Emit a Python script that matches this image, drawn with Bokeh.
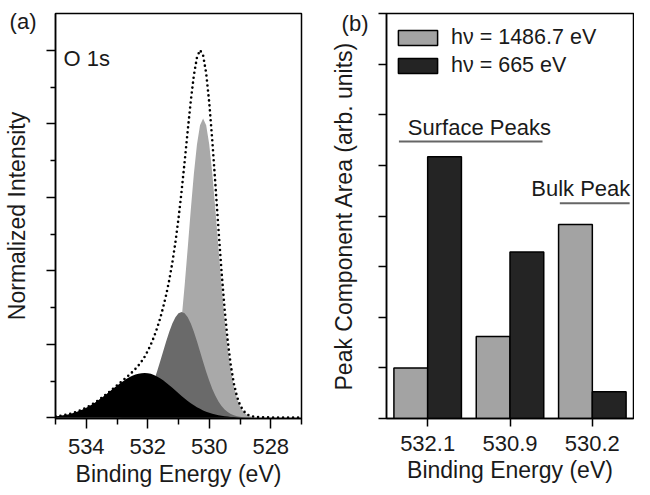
from bokeh.plotting import figure
from bokeh.models import (Range1d, FixedTicker, Label, Legend, LegendItem,
                          ColumnDataSource, LinearAxis, CustomJSTickFormatter)
from bokeh.layouts import row
from bokeh.embed import file_html
from bokeh.resources import INLINE
from bokeh.transform import dodge

# ---------------- data: panel (a) O 1s spectrum ----------------
energy = [535.0, 534.9, 534.8, 534.7, 534.6, 534.5, 534.4, 534.3, 534.2, 534.1,
          534.0, 533.9, 533.8, 533.7, 533.6, 533.5, 533.4, 533.3, 533.2, 533.1,
          533.0, 532.9, 532.8, 532.7, 532.6, 532.5, 532.4, 532.3, 532.2, 532.1,
          532.0, 531.9, 531.8, 531.7, 531.6, 531.5, 531.4, 531.3, 531.2, 531.1,
          531.0, 530.9, 530.8, 530.7, 530.6, 530.5, 530.4, 530.3, 530.2, 530.1,
          530.0, 529.9, 529.8, 529.7, 529.6, 529.5, 529.4, 529.3, 529.2, 529.1,
          529.0, 528.9, 528.8, 528.7, 528.6, 528.5, 528.4, 528.3, 528.2, 528.1,
          528.0, 527.9, 527.8, 527.7, 527.6, 527.5, 527.4, 527.3, 527.2, 527.1,
          527.0]

peak_532_1 = [0.019, 0.024, 0.030, 0.037, 0.046, 0.056, 0.069, 0.083, 0.099, 0.117,
              0.137, 0.160, 0.185, 0.212, 0.241, 0.271, 0.303, 0.336, 0.370, 0.404,
              0.436, 0.468, 0.498, 0.526, 0.550, 0.571, 0.588, 0.600, 0.607, 0.610,
              0.607, 0.598, 0.583, 0.563, 0.538, 0.510, 0.477, 0.443, 0.407, 0.370,
              0.333, 0.297, 0.262, 0.229, 0.198, 0.170, 0.144, 0.121, 0.100, 0.083,
              0.067, 0.054, 0.043, 0.034, 0.027, 0.021, 0.016, 0.012, 0.009, 0.007,
              0.005, 0.004, 0.003, 0.002, 0.001, 0.0, 0.0, 0.0, 0.0, 0.0,
              0.0, 0.0, 0.0, 0.0, 0.0, 0.0, 0.0, 0.0, 0.0, 0.0,
              0.0]

peak_530_9 = [0.0, 0.0, 0.0, 0.0, 0.0, 0.0, 0.0, 0.0, 0.0, 0.0,
              0.0, 0.0, 0.0, 0.0, 0.0, 0.0, 0.0, 0.0, 0.0, 0.003,
              0.005, 0.008, 0.013, 0.021, 0.034, 0.052, 0.077, 0.112, 0.160, 0.221,
              0.298, 0.392, 0.502, 0.626, 0.761, 0.902, 1.040, 1.169, 1.281, 1.367,
              1.421, 1.440, 1.421, 1.367, 1.281, 1.169, 1.040, 0.902, 0.761, 0.626,
              0.502, 0.392, 0.298, 0.221, 0.160, 0.112, 0.077, 0.052, 0.034, 0.021,
              0.013, 0.008, 0.005, 0.003, 0.002, 0.001, 0.0, 0.0, 0.0, 0.0,
              0.0, 0.0, 0.0, 0.0, 0.0, 0.0, 0.0, 0.0, 0.0, 0.0,
              0.0]

peak_530_2 = [0.0, 0.0, 0.0, 0.0, 0.0, 0.0, 0.0, 0.0, 0.0, 0.0,
              0.0, 0.0, 0.0, 0.0, 0.0, 0.0, 0.0, 0.0, 0.0, 0.0,
              0.0, 0.0, 0.0, 0.0, 0.0, 0.0, 0.0, 0.0, 0.0, 0.0,
              0.003, 0.006, 0.012, 0.025, 0.048, 0.089, 0.156, 0.263, 0.423, 0.651,
              0.956, 1.343, 1.802, 2.311, 2.834, 3.320, 3.718, 3.979, 4.070, 3.979,
              3.718, 3.320, 2.834, 2.311, 1.802, 1.343, 0.956, 0.651, 0.423, 0.263,
              0.156, 0.089, 0.048, 0.025, 0.012, 0.006, 0.003, 0.001, 0.0, 0.0,
              0.0, 0.0, 0.0, 0.0, 0.0, 0.0, 0.0, 0.0, 0.0, 0.0,
              0.0]

measured = [0.019, 0.024, 0.030, 0.037, 0.046, 0.056, 0.069, 0.083, 0.099, 0.117,
            0.137, 0.160, 0.185, 0.212, 0.241, 0.271, 0.303, 0.336, 0.370, 0.407,
            0.441, 0.476, 0.511, 0.547, 0.584, 0.623, 0.665, 0.712, 0.767, 0.831,
            0.908, 0.996, 1.097, 1.214, 1.347, 1.501, 1.673, 1.875, 2.111, 2.388,
            2.710, 3.080, 3.485, 3.907, 4.313, 4.659, 4.902, 5.002, 4.931, 4.688,
            4.287, 3.766, 3.175, 2.566, 1.989, 1.476, 1.049, 0.715, 0.466, 0.291,
            0.174, 0.101, 0.056, 0.030, 0.018, 0.012, 0.009, 0.007, 0.006, 0.005,
            0.005, 0.004, 0.004, 0.004, 0.003, 0.003, 0.003, 0.003, 0.003, 0.003,
            0.003]

a_major_ticks = [534, 532, 530, 528]
a_minor_ticks = [535, 533, 531, 529, 527]
a_y_ticks = [0, 1, 2, 3, 4, 5]
a_y_minor = [0.5, 1.5, 2.5, 3.5, 4.5]

# ---------------- data: panel (b) peak areas ----------------
categories = ["532.1", "530.9", "530.2"]
area_1486_7 = [1.00, 1.62, 3.83]
area_665 = [5.17, 3.29, 0.53]
b_y_ticks = [0, 1, 2, 3, 4, 5, 6, 7, 8]

FONT = "Liberation Sans"
TXT = "#1a1a1a"


def style_axis(ax):
    ax.axis_line_color = "black"
    ax.axis_line_width = 1.5
    ax.major_tick_line_color = "black"
    ax.major_tick_line_width = 1.5
    ax.minor_tick_line_color = "black"
    ax.minor_tick_line_width = 1.5
    ax.major_tick_in = 0
    ax.minor_tick_in = 0
    ax.axis_label_text_font = FONT
    ax.axis_label_text_font_style = "normal"
    ax.axis_label_text_font_size = "23px"
    ax.axis_label_text_color = TXT
    ax.major_label_text_font = FONT
    ax.major_label_text_font_size = "22px"
    ax.major_label_text_color = TXT


def style_x_axis(ax, tick_out, label_standoff, title_standoff):
    ax.major_tick_out = tick_out
    ax.major_label_standoff = label_standoff
    ax.axis_label_standoff = title_standoff
    ax.axis_label = "Binding Energy (eV)"


def style_fig(p):
    style_axis(p.xaxis[0])
    style_axis(p.yaxis[0])
    p.xgrid.visible = False
    p.ygrid.visible = False
    p.outline_line_color = "black"
    p.outline_line_width = 1.5
    p.background_fill_color = "white"
    p.border_fill_color = "white"


def hide_y_labels(ax):
    ax.major_label_text_color = None
    ax.major_label_text_font_size = "1px"
    ax.major_label_standoff = 0


def tag_axis(tag, tag_pos, label, label_standoff):
    # outer left axis: no line/ticks, carries the panel tag and the axis title
    ax = LinearAxis(ticker=FixedTicker(ticks=[tag_pos], minor_ticks=[]),
                    formatter=CustomJSTickFormatter(code="return '%s'" % tag))
    style_axis(ax)
    ax.axis_line_color = None
    ax.major_tick_out = 0
    ax.minor_tick_out = 0
    ax.major_tick_line_color = None
    ax.minor_tick_line_color = None
    ax.major_label_standoff = 10
    ax.major_label_orientation = "horizontal"
    ax.axis_label = label
    ax.axis_label_standoff = label_standoff
    return ax


# ---------------- panel (a) ----------------
pA = figure(width=327, height=495,
            min_border_left=48, min_border_right=26,
            min_border_top=13, min_border_bottom=77,
            x_range=Range1d(535.0, 527.0), y_range=Range1d(-0.01, 5.5),
            output_backend="svg", toolbar_location=None)
style_fig(pA)

srcA = ColumnDataSource(dict(e=energy, p1=peak_532_1, p2=peak_530_9,
                             p3=peak_530_2, m=measured))
pA.varea(x="e", y1=0, y2="p3", source=srcA, fill_color="#a9a9a9")
pA.varea(x="e", y1=0, y2="p2", source=srcA, fill_color="#6a6a6a")
pA.varea(x="e", y1=0, y2="p1", source=srcA, fill_color="#000000")
pA.line(x="e", y="m", source=srcA, line_color="black", line_width=2.6,
        line_dash="0 5", line_cap="round")

pA.xaxis.ticker = FixedTicker(ticks=a_major_ticks, minor_ticks=a_minor_ticks)
pA.xaxis.minor_tick_out = 6
style_x_axis(pA.xaxis[0], 10, 10, 4)

pA.yaxis.ticker = FixedTicker(ticks=a_y_ticks, minor_ticks=a_y_minor)
pA.yaxis.major_tick_out = 9
pA.yaxis.minor_tick_out = 5
hide_y_labels(pA.yaxis[0])
pA.add_layout(tag_axis("(a)", 5.39, "Normalized Intensity", -23), "left")

o1s = Label(x=8, y=405 - 45, x_units="screen", y_units="screen", text="O 1s",
            text_font=FONT, text_font_size="22px", text_color=TXT,
            text_baseline="alphabetic")
pA.add_layout(o1s)

# ---------------- panel (b) ----------------
cat_pos = [i + 0.5 for i in range(len(categories))]

pB = figure(width=307, height=495,
            min_border_left=48, min_border_right=1,
            min_border_top=13, min_border_bottom=73,
            x_range=Range1d(0, len(categories)), y_range=Range1d(0, 8),
            output_backend="svg", toolbar_location=None)
style_fig(pB)

srcB = ColumnDataSource(dict(pos=cat_pos, cat=categories, a1=area_1486_7,
                             a2=area_665))
r1 = pB.vbar(x=dodge("pos", -0.205), top="a1", width=0.41,
             source=srcB, fill_color="#a3a3a3", line_color="black",
             line_width=1.5)
r2 = pB.vbar(x=dodge("pos", 0.205), top="a2", width=0.41,
             source=srcB, fill_color="#242424", line_color="black",
             line_width=1.5)

pB.xaxis.ticker = FixedTicker(ticks=cat_pos, minor_ticks=[])
pB.xaxis.formatter = CustomJSTickFormatter(
    args=dict(cats=categories), code="return cats[Math.round(tick - 0.5)]")
pB.xaxis.minor_tick_out = 0
style_x_axis(pB.xaxis[0], 8, 9, 3)

pB.yaxis.ticker = FixedTicker(ticks=b_y_ticks, minor_ticks=[])
pB.yaxis.major_tick_out = 8
pB.yaxis.minor_tick_out = 0
hide_y_labels(pB.yaxis[0])
pB.add_layout(tag_axis("(b)", 7.81, "Peak Component Area (arb. units)", -18),
              "left")

legend = Legend(items=[LegendItem(label="hν = 1486.7 eV", renderers=[r1]),
                       LegendItem(label="hν = 665 eV", renderers=[r2])],
                location=(7, 340), glyph_width=49, glyph_height=19,
                label_standoff=9, spacing=3, padding=0, margin=0,
                label_text_font=FONT, label_text_font_size="21.5px",
                label_text_color=TXT, border_line_color=None,
                background_fill_alpha=0)
pB.add_layout(legend)

pB.segment(x0=[0.151], x1=[1.895], y0=[5.47], y1=[5.47],
           line_color="#666666", line_width=2)
pB.segment(x0=[2.105], x1=[2.953], y0=[4.25], y1=[4.25],
           line_color="#666666", line_width=2)
pB.add_layout(Label(x=1.128, y=5.75, text="Surface Peaks", text_font=FONT,
                    text_font_size="22px", text_color=TXT,
                    text_align="center", text_baseline="middle"))
pB.add_layout(Label(x=2.36, y=4.54, text="Bulk Peak", text_font=FONT,
                    text_font_size="22px", text_color=TXT,
                    text_align="center", text_baseline="middle"))

layout = row(pA, pB)
open("out.html", "w").write(file_html(layout, INLINE))
